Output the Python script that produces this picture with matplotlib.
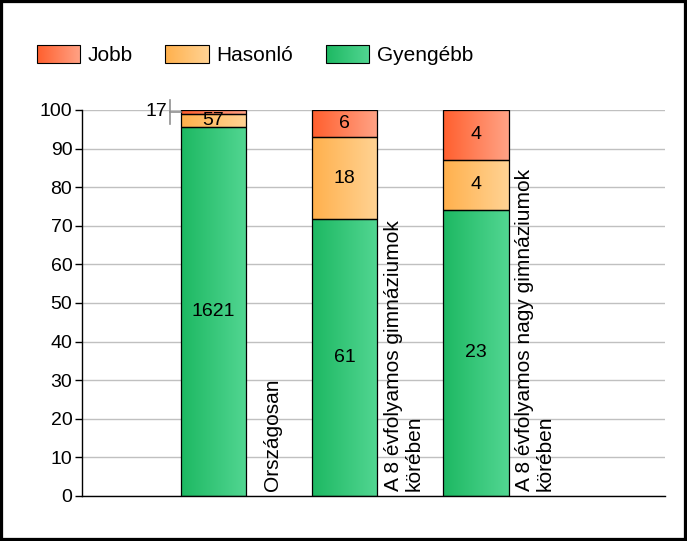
import numpy as np
import matplotlib
matplotlib.use("Agg")
import matplotlib.pyplot as plt
from matplotlib.colors import LinearSegmentedColormap
from matplotlib.patches import Rectangle
from matplotlib.legend_handler import HandlerBase
from matplotlib.image import BboxImage
from matplotlib.transforms import Bbox, TransformedBbox

plt.rcParams['font.family'] = ['Liberation Sans', 'DejaVu Sans']

categories = ["Országosan",
              "A 8 évfolyamos gimnáziumok\nkörében",
              "A 8 évfolyamos nagy gimnáziumok\nkörében"]
series_names = ["Jobb", "Hasonló", "Gyengébb"]
gyengebb = [1621, 61, 23]
hasonlo = [57, 18, 4]
jobb = [17, 6, 4]

# gradient colours (left -> right)
grad_colors = {
    "Gyengébb": ("#1db862", "#52d692"),
    "Hasonló": ("#ffb04c", "#ffd394"),
    "Jobb": ("#ff5f2e", "#ffa386"),
}
cmaps = {k: LinearSegmentedColormap.from_list(k, v) for k, v in grad_colors.items()}
grad = np.linspace(0, 1, 256).reshape(1, -1)


class GradHandler(HandlerBase):
    def __init__(self, cmap):
        super().__init__()
        self.cmap = cmap

    def create_artists(self, legend, orig_handle, xdescent, ydescent,
                       width, height, fontsize, trans):
        bb = TransformedBbox(Bbox.from_bounds(-xdescent, -ydescent, width, height), trans)
        img = BboxImage(bb, cmap=self.cmap, interpolation='bilinear')
        img.set_data(grad)
        rect = Rectangle((-xdescent, -ydescent), width, height, fc='none',
                         ec='black', lw=0.8, transform=trans)
        return [img, rect]


counts = np.array([gyengebb, hasonlo, jobb], dtype=float)
totals = counts.sum(axis=0)
pct = counts / totals * 100
stack_names = ["Gyengébb", "Hasonló", "Jobb"]

fig = plt.figure(figsize=(6.87, 5.41), dpi=100)
ax = fig.add_axes([0.1194, 0.0832, 0.8486, 0.7135])

x = np.arange(1, len(categories) + 1)
width = 0.5
bottom = np.zeros(len(categories))
handles = []
for i, name in enumerate(stack_names):
    bars = ax.bar(x, pct[i], width, bottom=bottom, facecolor='none',
                  edgecolor='black', linewidth=0.9, zorder=3)
    for j, b in enumerate(bars):
        x0, y0 = b.get_x(), b.get_y()
        im = ax.imshow(grad, extent=[x0, x0 + b.get_width(), y0, y0 + b.get_height()],
                       aspect='auto', cmap=cmaps[name], zorder=2, interpolation='bilinear')
        im.set_clip_path(b)
        mid = y0 + b.get_height() / 2
        label = str(int(counts[i, j]))
        if b.get_height() < 2:
            # tiny segment: label outside with leader line
            lx = x[j] - width / 2 - 0.08
            ax.plot([lx, lx], [mid - 3, mid + 3], color='#909090', lw=1.2,
                    clip_on=False, zorder=4)
            ax.plot([lx, x[j] - width / 2], [mid, mid], color='#909090', lw=1.2,
                    clip_on=False, zorder=4)
            ax.text(lx - 0.02, mid, label, ha='right', va='center', fontsize=14, zorder=5)
        else:
            ax.text(x[j], mid, label, ha='center', va='center', fontsize=14, zorder=5)
    handles.append(bars[0])
    bottom += pct[i]

for j, cat in enumerate(categories):
    ax.text(x[j] + 0.45, 1.2, cat, rotation=90, ha='center', va='bottom',
            multialignment='left', fontsize=15, linespacing=1.12, zorder=5)

ax.set_xlim(0, 4.44)
ax.set_ylim(0, 100)
ax.set_yticks(range(0, 101, 10))
ax.set_xticks([])
ax.tick_params(axis='y', labelsize=14, length=5, width=1, color='black', pad=2)
ax.yaxis.grid(True, color='#c0c0c0', linewidth=1)
ax.set_axisbelow(True)
for s in ['top', 'right']:
    ax.spines[s].set_visible(False)
ax.spines['left'].set_linewidth(1)
ax.spines['bottom'].set_linewidth(1)

# legend order: Jobb, Hasonló, Gyengébb
leg_handles = [handles[2], handles[1], handles[0]]
fig.legend(leg_handles, series_names,
           handler_map={h: GradHandler(cmaps[n]) for h, n in zip(leg_handles, series_names)},
           loc='upper left', bbox_to_anchor=(37 / 687, 1 - 45 / 541), ncol=3,
           frameon=False, fontsize=15, borderpad=0, borderaxespad=0,
           handlelength=2.07, handleheight=0.95, handletextpad=0.38, columnspacing=1.55)

fig.add_artist(Rectangle((0, 0), 1, 1, transform=fig.transFigure, fill=False,
                         edgecolor='black', linewidth=4.5, clip_on=False))

fig.savefig("out.png", dpi=100)
